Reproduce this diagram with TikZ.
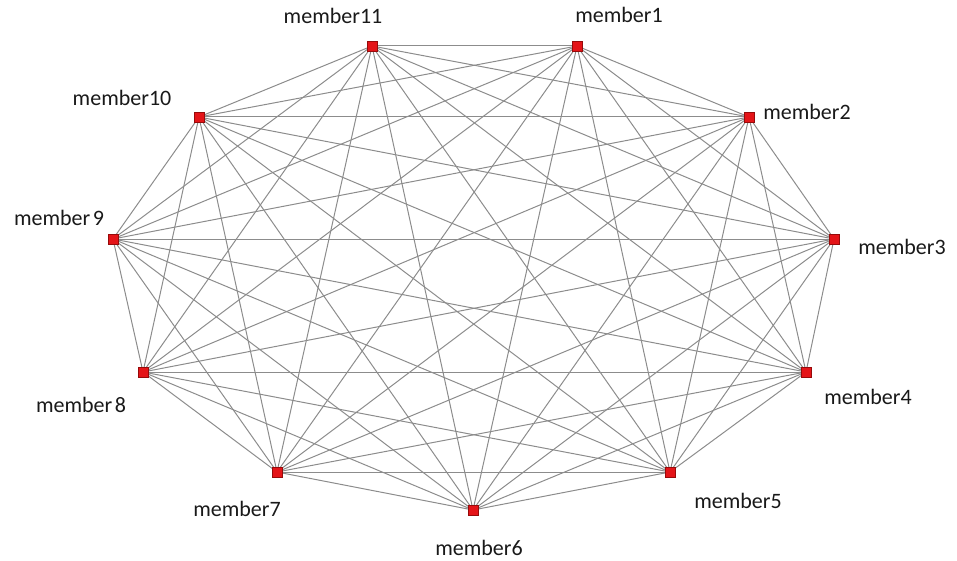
\documentclass[tikz,border=0pt]{standalone}
\usepackage{fontspec}
\setmainfont{Carlito}
\usetikzlibrary{backgrounds}
\definecolor{edgegray}{RGB}{140,140,140}
\definecolor{nodered}{RGB}{228,20,24}
\definecolor{nodeborder}{RGB}{150,10,10}
\definecolor{labeltext}{RGB}{25,25,25}
\tikzset{
  member/.style={rectangle,fill=nodered,draw=nodeborder,line width=0.5pt,minimum size=10pt,inner sep=0pt},
  lbl/.style={font=\fontsize{22}{24}\selectfont,text=labeltext,inner sep=0pt},
  edge/.style={draw=edgegray,line width=1pt}
}
\begin{document}
\begin{tikzpicture}[x=1pt,y=-1pt]
\useasboundingbox (0,0) rectangle (957,561);
\node[member] (m1) at (577,46) {};
\node[member] (m2) at (749,117) {};
\node[member] (m3) at (834,239) {};
\node[member] (m4) at (806,372) {};
\node[member] (m5) at (670,472) {};
\node[member] (m6) at (473,510) {};
\node[member] (m7) at (277,472) {};
\node[member] (m8) at (143,372) {};
\node[member] (m9) at (113,239) {};
\node[member] (m10) at (199,117) {};
\node[member] (m11) at (372,46) {};
\begin{pgfonlayer}{background}
\foreach \i in {1,...,10}{
  \pgfmathtruncatemacro{\s}{\i+1}
  \foreach \j in {\s,...,11}{
    \draw[edge] (m\i.center) -- (m\j.center);
  }
}
\end{pgfonlayer}
\node[lbl] (l1) at (619,15) {member1};
\node[lbl] (l2) at (807,112) {member2};
\node[lbl] (l3) at (902,247) {member3};
\node[lbl] (l4) at (868,397) {member4};
\node[lbl] (l5) at (738,501) {member5};
\node[lbl] (l6) at (479,548) {member6};
\node[lbl] (l7) at (237,509) {member7};
\node[lbl] (l8) at (81,405) {member\hspace{2.5pt}8};
\node[lbl] (l9) at (59,218) {member\hspace{2.5pt}9};
\node[lbl] (l10) at (122,98) {member10};
\node[lbl] (l11) at (333,16) {member11};
\end{tikzpicture}
\end{document}
